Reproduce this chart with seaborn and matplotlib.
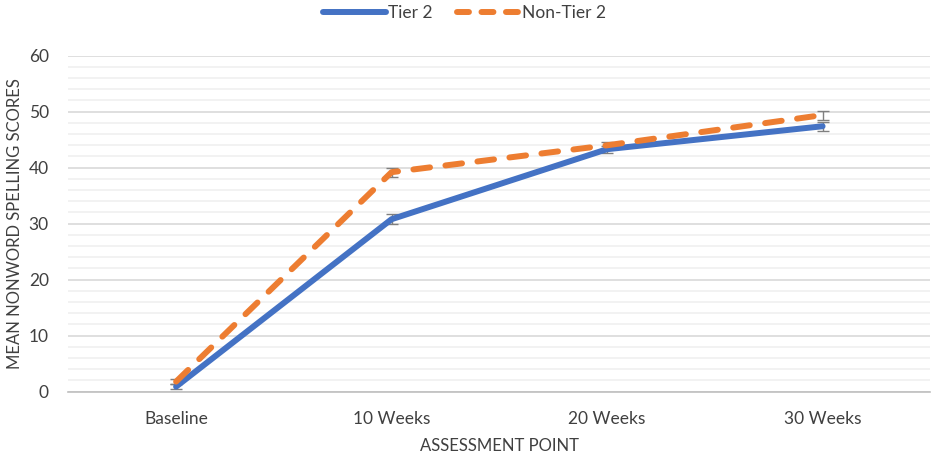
import pandas as pd
import matplotlib.pyplot as plt
import seaborn as sns
from matplotlib.lines import Line2D
from matplotlib.ticker import MultipleLocator

# values
points = ['Baseline', '10 Weeks', '20 Weeks', '30 Weeks']
tier2 = [0.9, 30.8, 43.3, 47.4]
tier2_err = [0.5, 0.9, 0.6, 0.8]
non_tier2 = [1.8, 39.2, 44.0, 49.4]
non_tier2_err = [0.5, 0.8, 0.6, 0.8]

blue = '#4472C4'
orange = '#ED7D31'

sns.set_style('white')
plt.rcParams['font.family'] = ['Lato', 'DejaVu Sans']

df = pd.DataFrame({
    'point': points * 2,
    'score': tier2 + non_tier2,
    'group': ['Tier 2'] * 4 + ['Non-Tier 2'] * 4,
})

fig = plt.figure(figsize=(9.35, 4.58), dpi=100)
ax = fig.add_axes([0.0731, 0.1448, 0.9219, 0.7336])

# error bars first so the lines sit on top
ax.errorbar(points, tier2, yerr=tier2_err, fmt='none', ecolor='#7f7f7f',
            elinewidth=1, capsize=4, capthick=1, zorder=2)
ax.errorbar(points, non_tier2, yerr=non_tier2_err, fmt='none', ecolor='#7f7f7f',
            elinewidth=1, capsize=4, capthick=1, zorder=2)

sns.lineplot(data=df[df.group == 'Tier 2'], x='point', y='score', color=blue,
             linewidth=4.3, solid_capstyle='round', sort=False, ax=ax, zorder=3)
sns.lineplot(data=df[df.group == 'Non-Tier 2'], x='point', y='score', color=orange,
             linewidth=4.3, sort=False, ax=ax, zorder=4,
             dashes=False, linestyle=(0, (2.8, 2.6)), dash_capstyle='round')

ax.set_xlim(-0.5, 3.5)
ax.set_ylim(0, 60)
ax.yaxis.set_major_locator(MultipleLocator(10))
ax.yaxis.set_minor_locator(MultipleLocator(2))
ax.grid(which='minor', axis='y', color='#f0f0f0', linewidth=1.2)
ax.grid(which='major', axis='y', color='#d9d9d9', linewidth=1.2)
ax.set_axisbelow(True)
for s in ['top', 'right', 'left']:
    ax.spines[s].set_visible(False)
ax.spines['bottom'].set_color('#bfbfbf')
ax.spines['bottom'].set_linewidth(1.2)
ax.tick_params(axis='both', which='both', length=0, labelsize=12.5,
               labelcolor='#404040')
ax.tick_params(axis='y', pad=14)
ax.tick_params(axis='x', pad=14)

ax.set_xlabel('ASSESSMENT POINT', fontsize=12, color='#404040', labelpad=8)
ax.set_ylabel('MEAN NONWORD SPELLING SCORES', fontsize=12, color='#404040', labelpad=4)

# legend handles, dash pattern shortened so the handle ends on a dash
handles = [
    Line2D([], [], color=blue, linewidth=4.3, solid_capstyle='round'),
    Line2D([], [], color=orange, linewidth=4.3, linestyle=(0, (2.0, 2.1)),
           dash_capstyle='round'),
]
fig.legend(handles, ['Tier 2', 'Non-Tier 2'], loc='center', bbox_to_anchor=(0.497, 0.972),
           ncol=2, frameon=False, fontsize=12.5, handlelength=3.6, handletextpad=0.15,
           columnspacing=1.4, labelcolor='#404040')

fig.savefig('out.png', dpi=100)
